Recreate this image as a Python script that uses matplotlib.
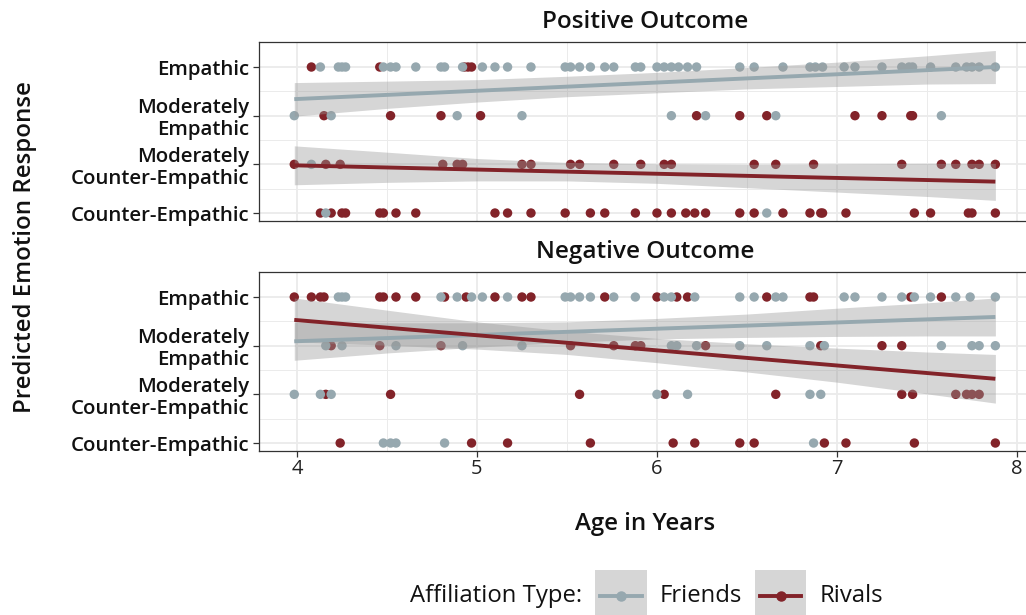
import matplotlib
matplotlib.use("Agg")
import matplotlib.pyplot as plt
from matplotlib.patches import Rectangle
from matplotlib.lines import Line2D
import numpy as np

plt.rcParams['font.family'] = ['Open Sans', 'DejaVu Sans']

# ---------------- data ----------------
levels = [1, 2, 3, 4]
level_labels = ["Counter-Empathic", "Moderately\nCounter-Empathic", "Moderately\nEmpathic", "Empathic"]
x_ticks = [4, 5, 6, 7, 8]
panels = ["Positive Outcome", "Negative Outcome"]
groups = ["Friends", "Rivals"]
colors = {"Friends": "#96A8AF", "Rivals": "#822329"}

# ages per response level (1=Counter-Empathic ... 4=Empathic)
pos_friends = {
    4: [4.13, 4.23, 4.25, 4.27, 4.48, 4.52, 4.55, 4.66, 4.80, 4.82, 4.92, 5.03, 5.10, 5.17, 5.30,
        5.49, 5.52, 5.57, 5.63, 5.71, 5.76, 5.88, 5.91, 6.00, 6.04, 6.08, 6.12, 6.17, 6.22, 6.46,
        6.54, 6.70, 6.85, 6.88, 6.92, 7.04, 7.10, 7.25, 7.36, 7.40, 7.42, 7.52, 7.66, 7.72, 7.75,
        7.79, 7.88],
    3: [3.985, 4.19, 4.89, 5.25, 6.08, 6.27, 6.66, 7.58],
    2: [4.08],
    1: [4.16, 6.61],
}
pos_rivals = {
    4: [4.08, 4.46, 4.93, 4.95, 4.97],
    3: [4.15, 4.52, 4.80, 5.02, 6.22, 6.46, 6.61, 7.10, 7.25, 7.41, 7.42],
    2: [3.985, 4.16, 4.24, 4.81, 4.89, 4.92, 5.25, 5.30, 5.52, 5.57, 5.76, 5.91, 6.04, 6.08, 6.54,
        6.66, 6.87, 7.36, 7.58, 7.66, 7.75, 7.79, 7.88],
    1: [4.13, 4.19, 4.25, 4.27, 4.46, 4.48, 4.55, 4.66, 5.10, 5.17, 5.30, 5.49, 5.63, 5.71, 5.88,
        6.00, 6.08, 6.16, 6.21, 6.27, 6.46, 6.54, 6.70, 6.85, 6.91, 6.92, 7.05, 7.43, 7.52, 7.73,
        7.75, 7.88],
}
neg_friends = {
    4: [4.23, 4.25, 4.27, 4.80, 4.89, 4.97, 5.03, 5.17, 5.49, 5.52, 5.57, 5.63, 5.76, 5.88, 6.04,
        6.08, 6.21, 6.46, 6.54, 6.66, 6.70, 7.04, 7.10, 7.25, 7.36, 7.43, 7.52, 7.66, 7.74, 7.88],
    3: [4.16, 4.25, 4.55, 4.92, 5.25, 6.08, 6.11, 6.22, 6.46, 6.61, 6.85, 6.93, 7.58, 7.75, 7.79, 7.88],
    2: [3.985, 4.13, 4.19, 6.00, 6.17, 6.85, 6.91],
    1: [4.48, 4.52, 4.55, 4.82, 6.87],
}
neg_rivals = {
    4: [3.985, 4.08, 4.13, 4.15, 4.46, 4.48, 4.55, 4.66, 4.82, 4.94, 5.10, 5.25, 5.30, 5.71, 6.00,
        6.11, 6.17, 6.61, 6.85, 6.87, 7.41, 7.58],
    3: [4.19, 4.46, 4.80, 5.52, 5.76, 5.88, 5.91, 6.27, 6.91, 7.25, 7.36],
    2: [4.16, 4.52, 5.57, 6.04, 6.66, 7.36, 7.42, 7.66, 7.72, 7.75, 7.79],
    1: [4.24, 4.97, 5.17, 5.63, 6.09, 6.21, 6.46, 6.54, 6.93, 7.05, 7.43, 7.88],
}

# fitted lines and confidence ribbons
fit_x = [3.985, 7.88]
pos_friends_fit = [3.34, 4.00]
pos_rivals_fit = [1.98, 1.645]
neg_friends_fit = [3.09, 3.59]
neg_rivals_fit = [3.53, 2.32]

band_x = [3.985, 4.5, 5.0, 5.5, 6.0, 6.5, 7.0, 7.5, 7.88]
pos_friends_lo = [2.99, 3.15, 3.28, 3.39, 3.47, 3.55, 3.60, 3.65, 3.66]
pos_friends_hi = [3.68, 3.71, 3.74, 3.81, 3.89, 3.99, 4.10, 4.23, 4.34]
pos_rivals_lo = [1.58, 1.63, 1.66, 1.66, 1.61, 1.52, 1.43, 1.34, 1.26]
pos_rivals_hi = [2.38, 2.25, 2.12, 2.04, 2.01, 2.00, 2.01, 2.02, 2.02]
neg_friends_lo = [2.70, 2.85, 2.97, 3.07, 3.14, 3.17, 3.19, 3.20, 3.20]
neg_friends_hi = [3.48, 3.47, 3.47, 3.49, 3.56, 3.65, 3.77, 3.88, 3.98]
neg_rivals_lo = [3.08, 3.01, 2.93, 2.82, 2.65, 2.46, 2.25, 2.01, 1.82]
neg_rivals_hi = [3.98, 3.73, 3.49, 3.30, 3.15, 3.04, 2.95, 2.87, 2.82]

panel_data = [
    (pos_friends, pos_rivals, pos_friends_fit, pos_rivals_fit,
     (pos_friends_lo, pos_friends_hi), (pos_rivals_lo, pos_rivals_hi)),
    (neg_friends, neg_rivals, neg_friends_fit, neg_rivals_fit,
     (neg_friends_lo, neg_friends_hi), (neg_rivals_lo, neg_rivals_hi)),
]

# ---------------- figure ----------------
W, H = 1026, 615
fig = plt.figure(figsize=(W / 100, H / 100), dpi=100)

def fx(px):
    return px / W

def fy(py):
    return 1 - py / H

ax_left, ax_right = 259, 1031
axes_pix = [(42, 221), (272, 451)]

grid_col = "#EBEBEB"
border_col = "#333333"
txt_col = "#111111"
wt = 'semibold'

for i, (top, bot) in enumerate(axes_pix):
    ax = fig.add_axes([fx(ax_left), fy(bot), (ax_right - ax_left) / W, (bot - top) / H])
    fr, rv, fr_fit, rv_fit, fr_band, rv_band = panel_data[i]
    ax.set_xlim(3.789, 8.078)
    ax.set_ylim(0.836, 4.514)
    ax.set_xticks(x_ticks)
    ax.set_xticks([4.5, 5.5, 6.5, 7.5], minor=True)
    ax.set_yticks(levels)
    ax.set_yticks([1.5, 2.5, 3.5], minor=True)
    ax.set_yticklabels(level_labels, fontsize=14.7, fontweight=wt, color=txt_col,
                       linespacing=1.12)
    ax.grid(which='major', color=grid_col, lw=1.3, zorder=0)
    ax.grid(which='minor', color=grid_col, lw=0.7, zorder=0)
    ax.set_axisbelow(True)
    for s in ax.spines.values():
        s.set_color(border_col)
        s.set_linewidth(0.9)
    ax.tick_params(axis='y', which='major', length=4, width=0.9, color=border_col, pad=3)
    ax.tick_params(which='minor', length=0)
    if i == 0:
        ax.tick_params(axis='x', which='major', length=0, labelbottom=False)
    else:
        ax.tick_params(axis='x', which='major', length=4, width=0.9, color=border_col,
                       labelsize=14.5, labelcolor='#222222', pad=2)

    # points
    for g, d in (("Rivals", rv), ("Friends", fr)):
        xs, ys = [], []
        for lev in levels:
            xs += d[lev]
            ys += [lev] * len(d[lev])
        ax.scatter(xs, ys, s=46, color=colors[g], edgecolors='none', zorder=2)

    # smooths
    for g, fit, band in (("Friends", fr_fit, fr_band), ("Rivals", rv_fit, rv_band)):
        ax.fill_between(band_x, band[0], band[1], color='#999999', alpha=0.4, lw=0, zorder=3)
        ax.plot(fit_x, fit, color=colors[g], lw=2.8, solid_capstyle='butt', zorder=4)

    ax.text(0.5, 1.1117, panels[i], transform=ax.transAxes, ha='center', va='center',
            fontsize=17.5, fontweight=wt, color=txt_col)

# axis labels
fig.text(fx(645), fy(524), "Age in Years", ha='center', va='center', fontsize=17.3,
         fontweight=wt, color=txt_col)
fig.text(fx(25), fy(247), "Predicted Emotion Response", ha='center', va='center',
         rotation=90, fontsize=17.3, fontweight=wt, color=txt_col)

# legend
ly = 596
fig.text(fx(582), fy(ly), "Affiliation Type:", ha='right', va='center', fontsize=17.2,
         color=txt_col)
key_specs = [(595, 647, "Friends", 660), (755, 806, "Rivals", 820)]
for (k0, k1, lab, tx), g in zip(key_specs, groups):
    fig.add_artist(Rectangle((fx(k0), 0), fx(k1) - fx(k0), fy(570), transform=fig.transFigure,
                             facecolor='#D6D6D6', edgecolor='none'))
    fig.add_artist(Line2D([fx(k0 + 5), fx(k1 - 5)], [fy(ly), fy(ly)], transform=fig.transFigure,
                          color=colors[g], lw=2.8))
    fig.add_artist(Line2D([fx((k0 + k1) / 2)], [fy(ly)], transform=fig.transFigure,
                          color=colors[g], marker='o', markersize=6.5, lw=0))
    fig.text(fx(tx), fy(ly), lab, ha='left', va='center', fontsize=17.2, color=txt_col)

fig.savefig("out.png", dpi=100)
